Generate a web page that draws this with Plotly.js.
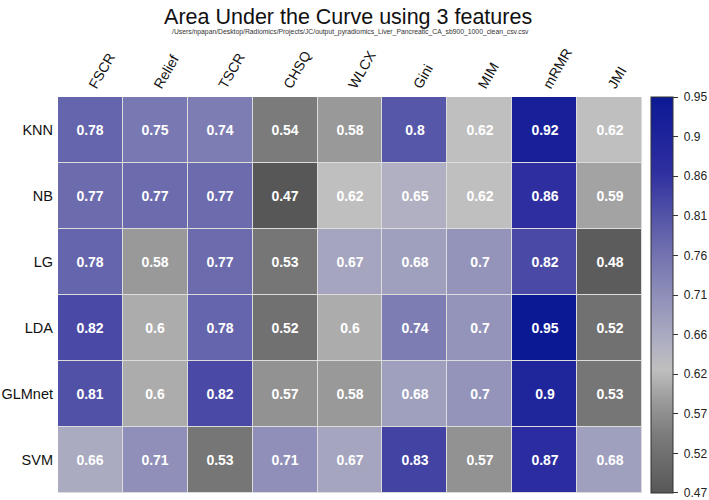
<!DOCTYPE html>
<html>
<head>
<meta charset="utf-8">
<script src="https://cdn.plot.ly/plotly-3.0.1.min.js"></script>
<style>
  html, body { margin: 0; padding: 0; background: #fff; }
  #chart { width: 709px; height: 500px; }
</style>
</head>
<body>
<div id="chart"></div>
<script>
// ── Data ─────────────────────────────────────────────────────────────────────
const methods = ['FSCR', 'Relief', 'TSCR', 'CHSQ', 'WLCX', 'Gini', 'MIM', 'mRMR', 'JMI'];
const models = ['KNN', 'NB', 'LG', 'LDA', 'GLMnet', 'SVM'];

const aucKNN    = [0.78, 0.75, 0.74, 0.54, 0.58, 0.8,  0.62, 0.92, 0.62];
const aucNB     = [0.77, 0.77, 0.77, 0.47, 0.62, 0.65, 0.62, 0.86, 0.59];
const aucLG     = [0.78, 0.58, 0.77, 0.53, 0.67, 0.68, 0.7,  0.82, 0.48];
const aucLDA    = [0.82, 0.6,  0.78, 0.52, 0.6,  0.74, 0.7,  0.95, 0.52];
const aucGLMnet = [0.81, 0.6,  0.82, 0.57, 0.58, 0.68, 0.7,  0.9,  0.53];
const aucSVM    = [0.66, 0.71, 0.53, 0.71, 0.67, 0.83, 0.57, 0.87, 0.68];

const cbTickText = ['0.47', '0.52', '0.57', '0.62', '0.66', '0.71', '0.76', '0.81', '0.86', '0.9', '0.95'];
const zMin = 0.47, zMax = 0.95;

// ── Colour scale: dark grey -> light grey -> blue ────────────────────────────
const COLORSCALE = [
  [0.0,    '#575757'],
  [0.146,  '#7b7b7b'],
  [0.229,  '#999999'],
  [0.3125, '#bfbfbf'],
  [0.375,  '#b0b0c2'],
  [0.48,   '#9494bb'],
  [0.604,  '#7272b0'],
  [0.729,  '#4a4aa6'],
  [0.8125, '#2e2ea0'],
  [1.0,    '#0c1994']
];

// evenly spaced colourbar ticks; nudge the end ticks inside so they are drawn
const cbTickVals = cbTickText.map((t, i) => zMin + (zMax - zMin) * i / (cbTickText.length - 1));
cbTickVals[0] += 1e-5;
cbTickVals[cbTickVals.length - 1] -= 1e-5;

const trace = {
  type: 'heatmap',
  x: methods,
  y: models,
  z: [aucKNN, aucNB, aucLG, aucLDA, aucGLMnet, aucSVM],
  zmin: zMin,
  zmax: zMax,
  colorscale: COLORSCALE,
  xgap: 1,
  ygap: 1,
  texttemplate: '<b>%{z}</b>',
  textfont: { color: '#ffffff', size: 14, family: 'Liberation Sans, Arial, sans-serif' },
  hoverongaps: false,
  colorbar: {
    x: 1.0154,
    xanchor: 'left',
    y: 0.5,
    len: 1.0,
    ypad: 0,
    xpad: 0,
    thickness: 22,
    outlinewidth: 1,
    outlinecolor: '#333',
    tickmode: 'array',
    tickvals: cbTickVals,
    ticktext: cbTickText.map(t => '\u00a0' + t),
    ticks: 'outside',
    ticklen: 5,
    tickcolor: '#333',
    ticklabeloverflow: 'allow',
    tickfont: { size: 12, color: '#222', family: 'Liberation Sans, Arial, sans-serif' }
  }
};

const layout = {
  width: 709,
  height: 500,
  paper_bgcolor: '#ffffff',
  plot_bgcolor: '#dcdcdc',
  margin: { l: 58, r: 67, t: 97, b: 7, autoexpand: false },
  font: { family: 'Liberation Sans, Arial, sans-serif', color: '#111' },
  title: {
    text: 'Area Under the Curve using 3 features',
    x: 0.491,
    xanchor: 'center',
    y: 0.968,
    yanchor: 'middle',
    font: { size: 21.5, color: '#111' }
  },
  xaxis: {
    side: 'top',
    tickangle: -60,
    ticks: '',
    showgrid: false,
    zeroline: false,
    tickfont: { size: 14, color: '#111' }
  },
  yaxis: {
    autorange: 'reversed',
    ticks: '',
    showgrid: false,
    zeroline: false,
    ticklabelstandoff: 4,
    tickfont: { size: 14.5, color: '#111' }
  },
  annotations: [{
    text: '/Users/npapan/Desktop/Radiomics/Projects/JC/output_pyradiomics_Liver_Pancreatic_CA_sb900_1000_clean_csv.csv',
    xref: 'paper', yref: 'paper',
    x: 0.5, y: 1 + (97 - 32) / 396,
    xanchor: 'center', yanchor: 'middle',
    showarrow: false,
    font: { size: 6.8, color: '#333' }
  }]
};

Plotly.newPlot('chart', [trace], layout, { displayModeBar: false, responsive: false });
</script>
</body>
</html>
